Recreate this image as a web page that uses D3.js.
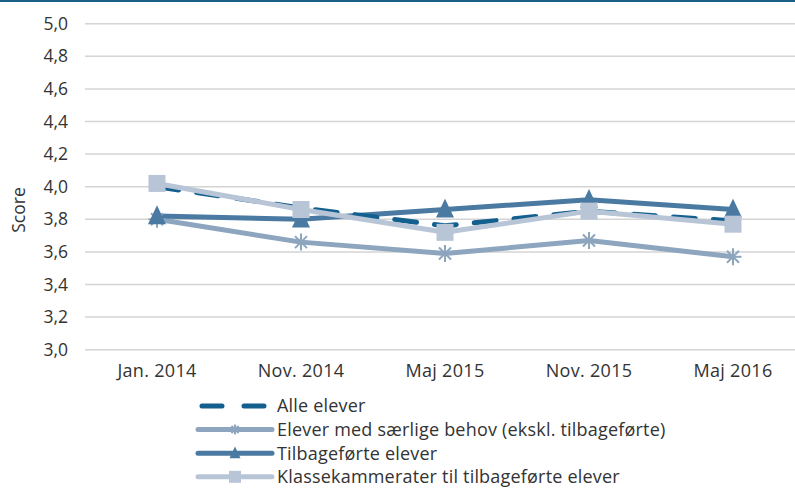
<!DOCTYPE html>
<html><head><meta charset="utf-8">
<script src="https://cdn.jsdelivr.net/npm/d3@7"></script>
<style>body{margin:0;background:#fff}svg{display:block;font-family:"Open Sans",Roboto,sans-serif}</style>
</head><body>
<svg id="c" width="795" height="489"></svg>
<script>
const categories = ["Jan. 2014","Nov. 2014","Maj 2015","Nov. 2015","Maj 2016"];
const alleElever = [4.00, 3.87, 3.76, 3.85, 3.79];
const saerligeBehov = [3.80, 3.66, 3.59, 3.67, 3.57];
const tilbagefoerte = [3.82, 3.80, 3.86, 3.92, 3.86];
const klassekammerater = [4.02, 3.86, 3.72, 3.85, 3.77];
const yTicks = [3.0,3.2,3.4,3.6,3.8,4.0,4.2,4.4,4.6,4.8,5.0];
const seriesNames = ["Alle elever","Elever med særlige behov (ekskl. tilbageførte)","Tilbageførte elever","Klassekammerater til tilbageførte elever"];

const series = [
  {name:seriesNames[0], values:alleElever, color:"#135f8e", dash:"22 18", marker:null},
  {name:seriesNames[1], values:saerligeBehov, color:"#8da5be", dash:null, marker:"star"},
  {name:seriesNames[2], values:tilbagefoerte, color:"#4a7aa1", dash:null, marker:"tri"},
  {name:seriesNames[3], values:klassekammerater, color:"#b8c5d7", dash:null, marker:"sq"}
];

const svg = d3.select("#c");
const x = d3.scalePoint().domain(categories).range([85,805]).padding(0.5);
const y = d3.scaleLinear().domain([3,5]).range([349.7,23.7]);

svg.append("line").attr("x1",0).attr("x2",795).attr("y1",1).attr("y2",1).attr("stroke","#1b5e87").attr("stroke-width",2);

svg.append("g").selectAll("line").data(yTicks).join("line")
  .attr("x1",85).attr("x2",795).attr("y1",d=>y(d)).attr("y2",d=>y(d))
  .attr("stroke","#d4d4d4").attr("stroke-width",1.5);

const fmt = d => d.toFixed(1).replace(".",",");
svg.append("g").selectAll("text").data(yTicks).join("text")
  .attr("x",68).attr("y",d=>y(d)).attr("dy","0.35em").attr("text-anchor","end")
  .attr("font-size",17.5).attr("fill","#333").text(fmt);

svg.append("g").selectAll("text").data(categories).join("text")
  .attr("x",d=>x(d)).attr("y",377).attr("text-anchor","middle")
  .attr("font-size",18).attr("letter-spacing",0.3).attr("fill","#333").text(d=>d);

svg.append("text").attr("transform","translate(25,210) rotate(-90)")
  .attr("text-anchor","middle").attr("font-size",17.5).attr("fill","#333").text("Score");

const line = d3.line().x((d,i)=>x(categories[i])).y(d=>y(d));
const drawOrder = [1,2,0,3];
drawOrder.forEach(k=>{
  const s = series[k];
  svg.append("path").datum(s.values).attr("d",line).attr("fill","none")
    .attr("stroke",s.color).attr("stroke-width",5)
    .attr("stroke-dasharray",s.dash).attr("stroke-linecap",s.dash?"round":"butt")
    .attr("stroke-linejoin","round");
});

function marker(g, type, cx, cy, color, sz){
  if(type==="sq"){
    g.append("rect").attr("x",cx-sz/2).attr("y",cy-sz/2).attr("width",sz).attr("height",sz).attr("fill",color);
  } else if(type==="tri"){
    const h = sz;
    g.append("path").attr("d",`M${cx},${cy-h*0.6}L${cx+sz/2},${cy+h*0.45}L${cx-sz/2},${cy+h*0.45}Z`).attr("fill",color);
  } else if(type==="star"){
    const r = sz/2;
    [0,45,90,135].forEach(a=>{
      const rad=a*Math.PI/180;
      g.append("line").attr("x1",cx-r*Math.cos(rad)).attr("y1",cy-r*Math.sin(rad))
        .attr("x2",cx+r*Math.cos(rad)).attr("y2",cy+r*Math.sin(rad))
        .attr("stroke",color).attr("stroke-width",2);
    });
  }
}
[1,2,3].forEach(k=>{
  const s = series[k];
  const g = svg.append("g");
  s.values.forEach((v,i)=>marker(g,s.marker,x(categories[i]),y(v),s.color,s.marker==="sq"?17:(s.marker==="tri"?18:17)));
});

const leg = svg.append("g");
series.forEach((s,i)=>{
  const ly = 406 + i*23.6;
  leg.append("line").attr("x1",s.dash?202:198).attr("x2",s.dash?268:272).attr("y1",ly).attr("y2",ly)
    .attr("stroke",s.color).attr("stroke-width",5)
    .attr("stroke-dasharray",s.dash?"20 22":null).attr("stroke-linecap","round");
  if(s.marker) marker(leg,s.marker,235,ly,s.color,s.marker==="sq"?12:(s.marker==="tri"?11:10));
  leg.append("text").attr("x",277).attr("y",ly).attr("dy","0.35em").attr("font-size",18).attr("letter-spacing",0.2).attr("fill","#333").text(s.name);
});
</script>
</body></html>
